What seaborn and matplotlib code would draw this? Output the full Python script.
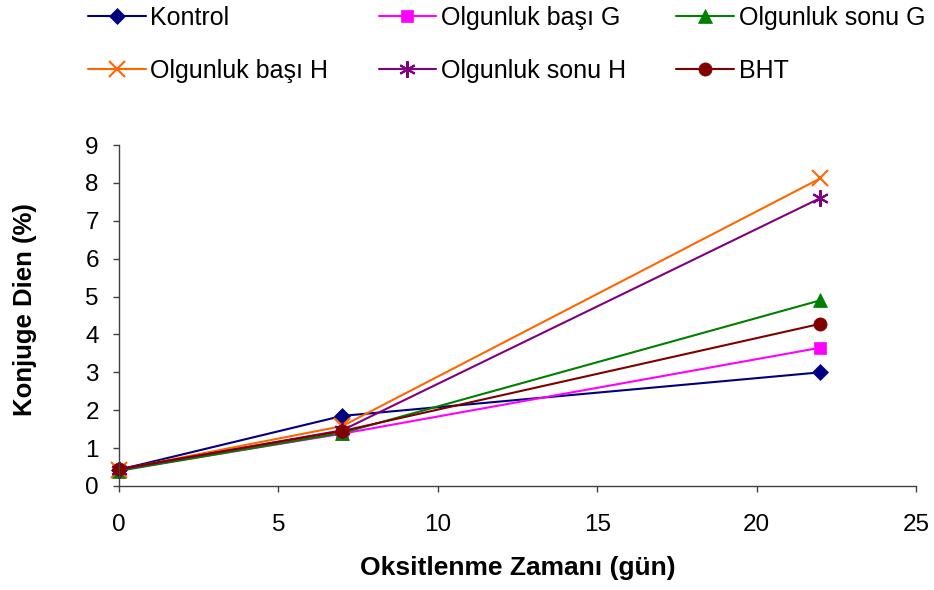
import numpy as np
import pandas as pd
import matplotlib
matplotlib.use("Agg")
import matplotlib.pyplot as plt
import seaborn as sns

# Oxidation time (days) and conjugated diene (%) for each treatment
days = [0, 7, 22]
kontrol = [0.43, 1.85, 3.00]
basi_g = [0.42, 1.38, 3.65]
sonu_g = [0.40, 1.40, 4.90]
basi_h = [0.43, 1.58, 8.12]
sonu_h = [0.43, 1.47, 7.60]
bht = [0.45, 1.45, 4.28]

series_names = ["Kontrol", "Olgunluk başı G", "Olgunluk sonu G",
                "Olgunluk başı H", "Olgunluk sonu H", "BHT"]
series_values = [kontrol, basi_g, sonu_g, basi_h, sonu_h, bht]
colors = ["#000080", "#FF00FF", "#008000", "#FF6600", "#800080", "#800000"]
markers = ["D", "s", "^", "x", (6, 2, 0), "o"]
marker_sizes = [8.5, 9, 10.5, 11, 12, 9.5]

x_ticks = [0, 5, 10, 15, 20, 25]
y_ticks = list(range(0, 10))

df = pd.DataFrame({
    "Gün": np.tile(days, len(series_names)),
    "Dien": np.concatenate(series_values),
    "Grup": np.repeat(series_names, len(days)),
})

sns.set_style("ticks")
plt.rcParams["font.family"] = ["Liberation Sans", "DejaVu Sans"]
plt.rcParams["text.color"] = "black"
plt.rcParams["axes.labelcolor"] = "black"
plt.rcParams["xtick.color"] = "black"
plt.rcParams["ytick.color"] = "black"

fig = plt.figure(figsize=(9.34, 5.90), dpi=100)
ax = fig.add_axes([119 / 934, 1 - 486 / 590, (916 - 119) / 934, (486 - 145) / 590])

for name, vals, c, m, ms in zip(series_names, series_values, colors, markers, marker_sizes):
    sub = df[df["Grup"] == name]
    thin = m in ("x", (6, 2, 0))
    sns.lineplot(data=sub, x="Gün", y="Dien", ax=ax, color=c, marker=m,
                 markersize=ms, markeredgecolor=c,
                 markeredgewidth=1.5 if thin else 0.5,
                 linewidth=1.5, label=name, legend=False)

ax.set_xlim(0, 25)
ax.set_ylim(0, 9)
ax.set_xticks(x_ticks)
ax.set_yticks(y_ticks)
ax.tick_params(axis="both", labelsize=17.5, length=4.5, width=1, color="#404040",
               direction="out", labelcolor="black")
ax.tick_params(axis="x", pad=15.5)
ax.tick_params(axis="y", pad=10)
for side in ("left", "bottom"):
    ax.spines[side].set_color("#404040")
    ax.spines[side].set_linewidth(1)
sns.despine(ax=ax)
for ln in ax.lines:
    ln.set_clip_on(False)

ax.set_xlabel("Oksitlenme Zamanı (gün)", fontsize=19, fontweight="bold", va="center")
ax.xaxis.set_label_coords(0.5, (486 - 568) / 341)
ax.set_ylabel("Konjuge Dien (%)", fontsize=18.5, fontweight="bold", va="center")
ax.yaxis.set_label_coords((25 - 119) / 797, 0.518)

# Legend laid out row by row across three columns
handles, labels = ax.get_legend_handles_labels()
order = [0, 3, 1, 4, 2, 5]
fig.legend([handles[i] for i in order], [labels[i] for i in order],
           loc="upper left", bbox_to_anchor=(88 / 934, 1 - 6 / 590), ncol=3,
           frameon=False, fontsize=18, handlelength=2.3, handletextpad=0.2,
           columnspacing=2.0, labelspacing=1.15, borderpad=0, borderaxespad=0)

fig.savefig("out.png", dpi=100)
